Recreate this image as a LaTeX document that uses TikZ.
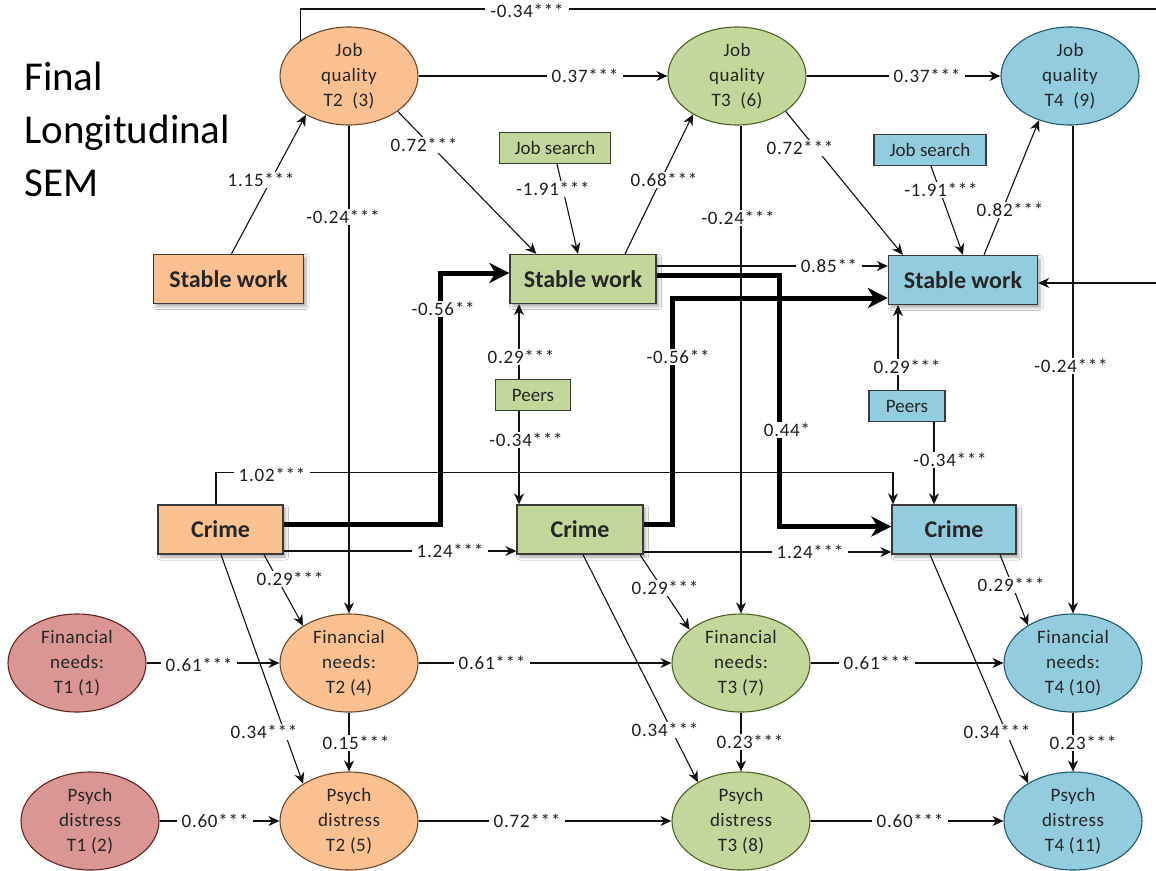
\documentclass[tikz,border=0pt]{standalone}
\usepackage{fontspec}
\setmainfont{Carlito}
\newfontfamily\spacedfam[LetterSpace=4]{Carlito}
\newfontfamily\ellfam[LetterSpace=2.5]{Carlito}
\usetikzlibrary{arrows.meta,calc,shadows.blur,shapes.geometric}

% fills and outlines for the four waves
\definecolor{orangeF}{HTML}{FAC090}
\definecolor{orangeD}{HTML}{6B4A2E}
\definecolor{greenF}{HTML}{C3D69B}
\definecolor{greenD}{HTML}{4F6228}
\definecolor{blueF}{HTML}{93CDDD}
\definecolor{blueD}{HTML}{215968}
\definecolor{pinkF}{HTML}{D99694}
\definecolor{pinkD}{HTML}{632523}
\definecolor{boxline}{HTML}{3A3A3A}
\definecolor{nodetext}{HTML}{262626}
\definecolor{labtext}{HTML}{1E1E1E}
\definecolor{linecol}{HTML}{111111}

\newcommand{\mylabfont}{\spacedfam\fontsize{19}{22}\selectfont}
\newcommand{\myellfont}{\ellfam\fontsize{19}{25}\selectfont}
\newcommand{\myboxfont}{\fontsize{24}{28}\selectfont\bfseries}
\newcommand{\mysmallfont}{\fontsize{19}{22}\selectfont}
\newcommand{\mytitlefont}{\fontsize{41}{50}\selectfont}

\begin{document}
\begin{tikzpicture}[x=1pt,y=-1pt,
  every node/.style={inner sep=0pt},
  ell/.style={ellipse, draw, line width=1.1pt, minimum width=138pt,
    minimum height=98pt, align=center, font=\myellfont, text=nodetext},
  box/.style={rectangle, draw=boxline, line width=1.3pt, font=\myboxfont,
    text=nodetext, minimum height=49pt,
    blur shadow={shadow xshift=2.5pt, shadow yshift=-3pt,
      shadow blur radius=3pt, shadow opacity=35}},
  smallbox/.style={rectangle, draw=boxline, line width=1.1pt,
    font=\mysmallfont, text=nodetext, minimum height=31pt},
  lab/.style={fill=white, inner xsep=5pt, inner ysep=1pt,
    font=\mylabfont, text=labtext},
  link/.style={line width=1.1pt, draw=linecol},
  arr/.style={link, -{Stealth[length=11pt,width=10pt,inset=3.5pt]}},
  fat/.style={line width=5pt, draw=black, line join=miter,
    -{Stealth[length=20pt,width=20pt,inset=6pt]}},
]
\fill[white] (0,0) rectangle (1156,870);
\useasboundingbox (0,0) rectangle (1156,870);

% title
\node[font=\mytitlefont, anchor=base west] (t1) at (24,90) {Final};
\node[font=\mytitlefont, anchor=base west] (t2) at (24,143) {Longitudinal};
\node[font=\mytitlefont, anchor=base west] (t3) at (24,196) {SEM};

% latent variables
\node[ell, fill=orangeF, draw=orangeD] (jq2) at (349,76) {Job\\quality\\T2~ (3)};
\node[ell, fill=greenF, draw=greenD]   (jq3) at (737,76) {Job\\quality\\T3~ (6)};
\node[ell, fill=blueF, draw=blueD]     (jq4) at (1070,76) {Job\\quality\\T4~ (9)};

\node[ell, fill=pinkF, draw=pinkD]     (fn1) at (77,663) {Financial\\needs:\\T1 (1)};
\node[ell, fill=orangeF, draw=orangeD] (fn2) at (349,663) {Financial\\needs:\\T2 (4)};
\node[ell, fill=greenF, draw=greenD]   (fn3) at (741,663) {Financial\\needs:\\T3 (7)};
\node[ell, fill=blueF, draw=blueD]     (fn4) at (1073,663) {Financial\\needs:\\T4 (10)};

\node[ell, fill=pinkF, draw=pinkD]     (pd1) at (90,821) {Psych\\distress\\T1 (2)};
\node[ell, fill=orangeF, draw=orangeD] (pd2) at (349,821) {Psych\\distress\\T2 (5)};
\node[ell, fill=greenF, draw=greenD]   (pd3) at (741,821) {Psych\\distress\\T3 (8)};
\node[ell, fill=blueF, draw=blueD]     (pd4) at (1073,821) {Psych\\distress\\T4 (11)};

% observed variables
\node[box, fill=orangeF, minimum width=150pt] (sw1) at (228.5,279) {Stable work};
\node[box, fill=greenF, minimum width=146pt]  (sw2) at (583,279) {Stable work};
\node[box, fill=blueF, minimum width=149pt]   (sw3) at (963,280) {Stable work};

\node[box, fill=orangeF, minimum width=125pt] (cr1) at (220.5,529.5) {Crime};
\node[box, fill=greenF, minimum width=126pt]  (cr2) at (580,529.5) {Crime};
\node[box, fill=blueF, minimum width=124pt]   (cr3) at (954,529.5) {Crime};

% covariates
\node[smallbox, fill=greenF, minimum width=111pt] (js2) at (555,148) {Job search};
\node[smallbox, fill=blueF, minimum width=112pt]  (js3) at (930,150) {Job search};
\node[smallbox, fill=greenF, minimum width=75pt]  (pe2) at (533,395) {Peers};
\node[smallbox, fill=blueF, minimum width=76pt]   (pe3) at (907,406) {Peers};

% off-page turning points of the long feedback path
\coordinate (offtop) at (1170,9);
\coordinate (offbot) at (1170,283);

% job quality paths
\draw[arr] (jq2.east) -- (jq3.west);
\draw[arr] (jq3.east) -- (jq4.west);
\draw[arr] ($(sw1.north)+(3,0)$) -- (jq2.222);
\draw[arr] ($(sw2.north)+(42,0)$) -- (jq3.221);
\draw[arr] ($(sw3.north)+(21,0)$) -- (jq4.235);
\draw[arr] (jq2.south) -- (fn2.north);
\draw[arr] (fn3.north |- jq3.south) -- (fn3.north);
\draw[arr] (fn4.north |- jq4.south) -- (fn4.north);
\draw[arr] (jq2.-36) -- ($(sw2.north west)+(27,0)$);
\draw[arr] (jq3.-36) -- ($(sw3.north west)+(15,0)$);
\draw[arr] (jq2.144) |- (offtop) -- (offbot) -- ($(sw3.east)+(0,3)$);

% job search and peers
\draw[arr] ($(js2.south)+(2,0)$) -- ($(sw2.north)+(-5,0)$);
\draw[arr] ($(js3.south)+(1,0)$) -- (sw3.north);
\draw[arr] ($(pe2.north)+(-14,0)$) -- ($(sw2.south)+(-64,0)$);
\draw[arr] ($(pe2.south)+(-14,0)$) -- ($(cr2.north)+(-61,0)$);
\draw[arr] ($(pe3.north)+(-9,0)$) -- ($(sw3.south)+(-65,0)$);
\draw[arr] ($(pe3.south)+(27,0)$) -- ($(cr3.north)+(-20,0)$);

% stable work and crime over time
\draw[arr] ($(sw2.east)+(0,-13)$) -- ($(sw3.west)+(0,-14)$);
\draw[arr] ($(cr1.north)+(-4.5,0)$) |- ($(cr3.north)+(-61,-32)$) -- ($(cr3.north)+(-61,0)$);
\draw[arr] ($(cr1.east)+(0,21.5)$) -- ($(cr2.west)+(0,21.5)$);
\draw[arr] ($(cr2.east)+(0,22.5)$) -- ($(cr3.west)+(0,22.5)$);

% crime to needs and distress
\draw[arr] ($(cr1.south)+(43.5,0)$) -- (fn2.141);
\draw[arr] ($(cr1.south)+(0.5,0)$) -- (pd2.141);
\draw[arr] ($(cr2.south)+(60,0)$) -- (fn3.147);
\draw[arr] ($(cr2.south)+(3,0)$) -- (pd3.138);
\draw[arr] ($(cr3.south)+(46,0)$) -- (fn4.140);
\draw[arr] ($(cr3.south)+(-24,0)$) -- (pd4.140);

% needs and distress over time
\draw[arr] (fn1.east) -- (fn2.west);
\draw[arr] (fn2.east) -- (fn3.west);
\draw[arr] (fn3.east) -- (fn4.west);
\draw[arr] (pd1.east) -- (pd2.west);
\draw[arr] (pd2.east) -- (pd3.west);
\draw[arr] (pd3.east) -- (pd4.west);
\draw[arr] (fn2.south) -- (pd2.north);
\draw[arr] (fn3.south) -- (pd3.north);
\draw[arr] (fn4.south) -- (pd4.north);

% cross-lagged paths between crime and stable work
\draw[fat] ($(cr1.east)+(0,-5)$) -- ++(157,0) |- ($(sw2.west)+(0,-6)$);
\draw[fat] ($(cr2.east)+(0,-5)$) -- ++(29,0) |- ($(sw3.west)+(0,18)$);
\draw[fat] ($(sw2.east)+(0,-4)$) -- ++(123,0) |- ($(cr3.west)+(0,-3)$);

% path coefficients
\node[lab] (c01) at (527,11) {-0.34***};
\node[lab] (c02) at (585,76) {0.37***};
\node[lab] (c03) at (927,76) {0.37***};
\node[lab] (c04) at (261,180) {1.15***};
\node[lab] (c05) at (343,217) {-0.24***};
\node[lab] (c06) at (424,145) {0.72***};
\node[lab] (c07) at (553,189) {-1.91***};
\node[lab] (c08) at (664,180) {0.68***};
\node[lab] (c09) at (738,218) {-0.24***};
\node[lab] (c10) at (800,148) {0.72***};
\node[lab] (c11) at (941,190) {-1.91***};
\node[lab] (c12) at (1010,210) {0.82***};
\node[lab] (c13) at (829,266) {0.85**};
\node[lab] (c14) at (443,309) {-0.56**};
\node[lab] (c15) at (521,357) {0.29***};
\node[lab] (c16) at (526,440) {-0.34***};
\node[lab] (c17) at (678,357) {-0.56**};
\node[lab] (c18) at (787,430) {0.44*};
\node[lab] (c19) at (907,367) {0.29***};
\node[lab] (c20) at (950,460) {-0.34***};
\node[lab] (c21) at (1071,366) {-0.24***};
\node[lab] (c22) at (272,475) {1.02***};
\node[lab] (c23) at (450,551) {1.24***};
\node[lab] (c24) at (810,552) {1.24***};
\node[lab] (c25) at (290,579) {0.29***};
\node[lab] (c26) at (665,588) {0.29***};
\node[lab] (c27) at (1011,585) {0.29***};
\node[lab] (c28) at (199,665) {0.61***};
\node[lab] (c29) at (492,663) {0.61***};
\node[lab] (c30) at (877,663) {0.61***};
\node[lab] (c31) at (264,732) {0.34***};
\node[lab] (c32) at (665,730) {0.34***};
\node[lab] (c33) at (997,732) {0.34***};
\node[lab] (c34) at (356,743) {0.15***};
\node[lab] (c35) at (750,742) {0.23***};
\node[lab] (c36) at (1083,743) {0.23***};
\node[lab] (c37) at (215,821) {0.60***};
\node[lab] (c38) at (527,821) {0.72***};
\node[lab] (c39) at (910,821) {0.60***};
\end{tikzpicture}
\end{document}
